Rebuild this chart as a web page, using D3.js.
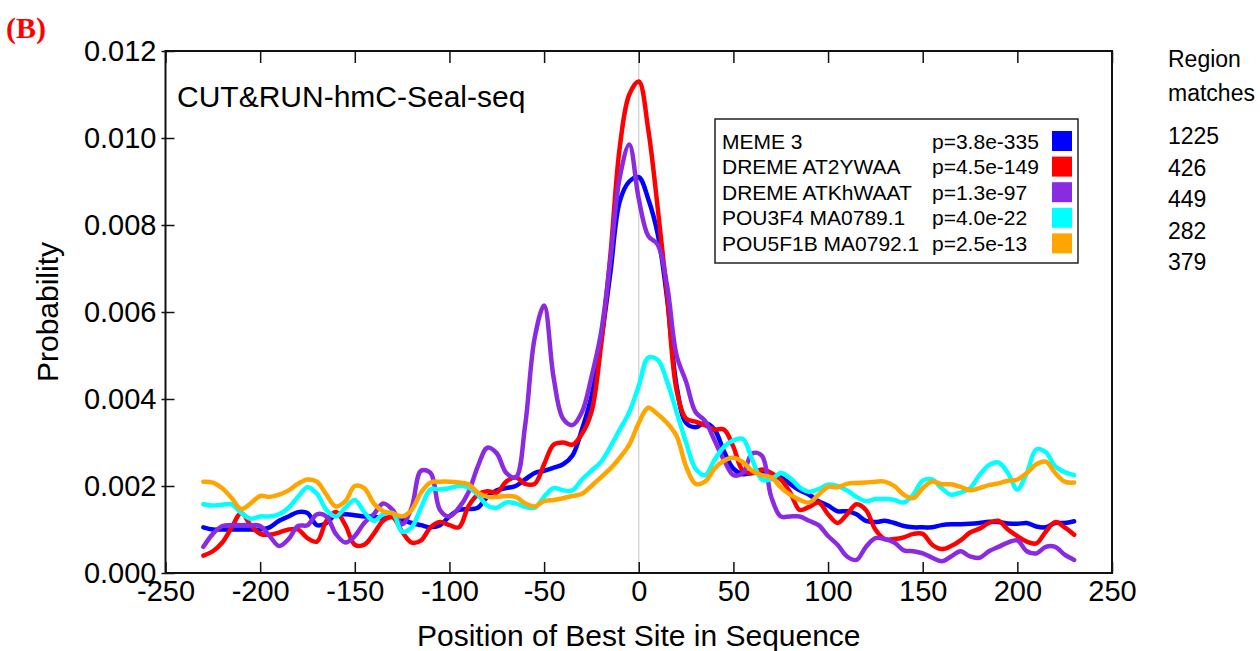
<!DOCTYPE html>
<html>
<head>
<meta charset="utf-8">
<script src="https://cdn.jsdelivr.net/npm/d3@7"></script>
<style>
  body { margin: 0; background: #fff; }
  svg { display: block; }
  text { font-family: "Liberation Sans", Arial, sans-serif; fill: #000; }
</style>
</head>
<body>
<div id="chart"></div>
<script>
// positions of best site, every 5 bp
const positions = d3.range(-230, 231, 5);

// probabilities, in units of 1e-3
const meme3 = [1.05, 1.0, 1.0, 1.0, 1.0, 1.0, 1.0, 1.05, 1.2, 1.3, 1.4, 1.38, 1.1, 1.15, 1.35, 1.35, 1.33, 1.3, 1.3, 1.25, 1.3, 1.22, 1.15, 1.1, 1.05, 1.1, 1.3, 1.45, 1.47, 1.5, 1.75, 1.9, 1.95, 2.0, 2.15, 2.3, 2.35, 2.42, 2.5, 2.7, 3.3, 4.06, 5.3, 6.9, 8.55, 9.0, 9.1, 8.6, 7.8, 6.3, 4.3, 3.45, 3.35, 3.45, 3.3, 2.8, 2.4, 2.27, 2.3, 2.3, 2.25, 2.2, 2.05, 1.9, 1.8, 1.65, 1.55, 1.42, 1.42, 1.35, 1.2, 1.17, 1.2, 1.15, 1.08, 1.05, 1.05, 1.05, 1.1, 1.12, 1.12, 1.13, 1.15, 1.18, 1.17, 1.14, 1.13, 1.15, 1.07, 1.05, 1.15, 1.15, 1.19];
const at2ywaa = [0.4, 0.5, 0.7, 1.05, 1.38, 1.1, 0.9, 0.88, 0.93, 1.0, 1.0, 0.8, 0.72, 1.2, 1.4, 1.1, 0.65, 0.65, 0.9, 1.2, 1.28, 0.95, 0.7, 0.75, 1.05, 1.17, 1.1, 1.05, 1.53, 1.8, 1.88, 1.85, 2.1, 2.2, 2.05, 2.05, 2.5, 2.95, 3.0, 2.95, 3.2, 3.7, 5.2, 7.3, 9.8, 11.0, 11.3, 10.2, 8.4, 6.4, 4.2, 3.55, 3.48, 3.4, 3.3, 3.3, 2.9, 2.35, 2.3, 2.38, 2.3, 2.15, 1.85, 1.45, 1.52, 1.62, 1.35, 1.15, 1.35, 1.58, 1.45, 1.0, 0.78, 0.78, 0.82, 0.9, 0.9, 0.65, 0.55, 0.62, 0.75, 0.93, 1.02, 1.15, 1.2, 1.0, 0.85, 0.72, 0.68, 0.95, 1.17, 1.05, 0.88];
const atkhwaat = [0.6, 0.9, 1.08, 1.1, 1.1, 1.1, 1.08, 0.85, 0.62, 0.78, 1.08, 1.1, 1.35, 1.3, 0.9, 0.7, 0.85, 1.15, 1.35, 1.6, 1.45, 1.12, 1.5, 2.35, 2.3, 1.45, 1.3, 1.5, 1.85, 2.45, 2.88, 2.75, 2.3, 2.2, 3.4, 5.4, 6.15, 4.5, 3.55, 3.4, 3.7, 4.5, 5.5, 7.2, 9.1, 9.85, 8.6, 7.75, 7.55, 6.6, 5.0, 4.4, 3.7, 3.5, 3.05, 2.6, 2.25, 2.3, 2.75, 2.7, 1.75, 1.3, 1.3, 1.3, 1.2, 1.1, 0.85, 0.65, 0.38, 0.3, 0.6, 0.8, 0.78, 0.7, 0.52, 0.5, 0.45, 0.35, 0.27, 0.38, 0.5, 0.38, 0.35, 0.5, 0.6, 0.7, 0.75, 0.5, 0.45, 0.6, 0.6, 0.42, 0.3];
const pou3f4 = [1.58, 1.55, 1.57, 1.58, 1.38, 1.25, 1.3, 1.3, 1.35, 1.5, 1.75, 1.97, 1.82, 1.45, 1.3, 1.5, 1.68, 1.4, 1.2, 1.35, 1.38, 0.95, 1.05, 1.5, 1.92, 1.92, 1.95, 2.0, 1.97, 1.8, 1.55, 1.5, 1.62, 1.6, 1.52, 1.5, 1.75, 1.95, 1.9, 1.9, 2.15, 2.35, 2.55, 2.9, 3.3, 3.7, 4.3, 4.95, 4.9, 4.4, 3.7, 3.0, 2.4, 2.25, 2.6, 2.9, 3.05, 3.08, 2.6, 2.15, 2.15, 2.3, 2.18, 1.97, 1.87, 1.93, 2.03, 2.0, 1.9, 1.75, 1.65, 1.7, 1.7, 1.68, 1.62, 1.8, 2.12, 2.15, 1.95, 1.8, 1.85, 1.95, 2.25, 2.48, 2.54, 2.3, 1.92, 2.3, 2.84, 2.78, 2.45, 2.32, 2.25];
const pou5f1b = [2.1, 2.08, 1.95, 1.72, 1.47, 1.6, 1.77, 1.75, 1.8, 1.9, 2.05, 2.15, 2.1, 1.8, 1.53, 1.65, 2.0, 1.95, 1.6, 1.42, 1.37, 1.3, 1.45, 1.85, 2.08, 2.1, 2.1, 2.08, 2.04, 1.85, 1.75, 1.75, 1.77, 1.75, 1.6, 1.53, 1.65, 1.68, 1.72, 1.77, 1.82, 2.0, 2.2, 2.4, 2.65, 2.95, 3.45, 3.8, 3.65, 3.45, 3.15, 2.45, 2.05, 2.1, 2.4, 2.58, 2.65, 2.55, 2.35, 2.25, 2.2, 1.97, 1.8, 1.68, 1.62, 1.8, 1.98, 1.97, 2.05, 2.07, 2.08, 2.1, 2.1, 2.0, 1.8, 1.72, 1.95, 2.1, 2.04, 2.04, 1.98, 1.9, 1.95, 2.02, 2.06, 2.12, 2.15, 2.3, 2.5, 2.56, 2.3, 2.1, 2.08];

const motifNames = ["MEME 3", "DREME AT2YWAA", "DREME ATKhWAAT", "POU3F4 MA0789.1", "POU5F1B MA0792.1"];
const pValues = ["p=3.8e-335", "p=4.5e-149", "p=1.3e-97", "p=4.0e-22", "p=2.5e-13"];
const regionMatches = ["1225", "426", "449", "282", "379"];
const colors = ["#0000ff", "#ff0000", "#8a2be2", "#00ffff", "#ffa500"];
const seriesValues = [meme3, at2ywaa, atkhwaat, pou3f4, pou5f1b];

const xTicks = [-250, -200, -150, -100, -50, 0, 50, 100, 150, 200, 250];
const yTicks = [0, 0.002, 0.004, 0.006, 0.008, 0.010, 0.012];

const W = 1260, H = 651;
const plot = {left: 165.5, right: 1112, top: 51, bottom: 573};

const svg = d3.select("#chart").append("svg")
    .attr("width", W)
    .attr("height", H);

const x = d3.scaleLinear().domain([-250, 250]).range([plot.left, plot.right]);
const y = d3.scaleLinear().domain([0, 0.012]).range([plot.bottom, plot.top]);

// zero line
svg.append("line")
    .attr("x1", x(0)).attr("x2", x(0))
    .attr("y1", plot.top).attr("y2", plot.bottom)
    .attr("stroke", "#d9d9d9")
    .attr("stroke-width", 1.5);

// curves
const line = d3.line()
    .x((d, i) => x(positions[i]))
    .y(d => y(d / 1000))
    .curve(d3.curveCatmullRom.alpha(0.5));

seriesValues.forEach((vals, i) => {
    svg.append("path")
        .datum(vals)
        .attr("fill", "none")
        .attr("stroke", colors[i])
        .attr("stroke-width", 4.5)
        .attr("stroke-linejoin", "round")
        .attr("stroke-linecap", "round")
        .attr("d", line);
});

// frame
svg.append("rect")
    .attr("x", plot.left).attr("y", plot.top)
    .attr("width", plot.right - plot.left)
    .attr("height", plot.bottom - plot.top)
    .attr("fill", "none")
    .attr("stroke", "#111")
    .attr("stroke-width", 2);

// bottom axis, ticks pointing in (plain hyphen for negatives)
const gx = svg.append("g")
    .attr("transform", `translate(0,${plot.bottom})`)
    .call(d3.axisBottom(x).tickValues(xTicks).tickSize(-11).tickPadding(6).tickFormat(d => String(d)));
gx.select(".domain").remove();
gx.selectAll("text").attr("font-size", 29).attr("dy", "0.75em");

// top ticks
const gt = svg.append("g")
    .attr("transform", `translate(0,${plot.top})`)
    .call(d3.axisTop(x).tickValues(xTicks).tickSize(-12).tickFormat(""));
gt.select(".domain").remove();

// left axis, ticks crossing the frame
const gy = svg.append("g")
    .attr("transform", `translate(${plot.left},0)`)
    .call(d3.axisLeft(y).tickValues(yTicks).tickSize(-9).tickPadding(10).tickFormat(d3.format(".3f")));
gy.select(".domain").remove();
gy.selectAll("line").attr("x1", -4);
gy.selectAll("text").attr("font-size", 29).attr("x", -9);

svg.selectAll(".tick line").attr("stroke", "#111").attr("stroke-width", 1.5);

// axis titles
svg.append("text")
    .attr("transform", `translate(58,${(plot.top + plot.bottom) / 2}) rotate(-90)`)
    .attr("text-anchor", "middle")
    .attr("font-size", 30)
    .text("Probability");

svg.append("text")
    .attr("x", (plot.left + plot.right) / 2)
    .attr("y", 646)
    .attr("text-anchor", "middle")
    .attr("font-size", 30)
    .text("Position of Best Site in Sequence");

// panel label and title
svg.append("text")
    .attr("x", 6).attr("y", 38)
    .style("font-family", "'Liberation Serif', 'DejaVu Serif', serif")
    .style("font-weight", "bold")
    .style("fill", "#ff0000")
    .attr("font-size", 30)
    .text("(B)");

svg.append("text")
    .attr("x", 177).attr("y", 107)
    .attr("font-size", 30)
    .text("CUT&RUN-hmC-Seal-seq");

// legend
const leg = svg.append("g");
leg.append("rect")
    .attr("x", 715).attr("y", 119)
    .attr("width", 363).attr("height", 144)
    .attr("fill", "#fff")
    .attr("stroke", "#222")
    .attr("stroke-width", 1.5);

motifNames.forEach((name, i) => {
    const cy = 141 + i * 25.6;
    leg.append("text")
        .attr("x", 722).attr("y", cy + 7.5)
        .attr("font-size", 21)
        .text(name);
    leg.append("text")
        .attr("x", 932).attr("y", cy + 7.5)
        .attr("font-size", 21)
        .text(pValues[i]);
    leg.append("rect")
        .attr("x", 1052).attr("y", cy - 10)
        .attr("width", 20).attr("height", 20)
        .attr("fill", colors[i]);
});

// region matches column
svg.append("text").attr("x", 1168).attr("y", 67).attr("font-size", 23).text("Region");
svg.append("text").attr("x", 1168).attr("y", 101).attr("font-size", 23).text("matches");
regionMatches.forEach((m, i) => {
    svg.append("text")
        .attr("x", 1168).attr("y", 144 + i * 31.6)
        .attr("font-size", 23)
        .text(m);
});
</script>
</body>
</html>
